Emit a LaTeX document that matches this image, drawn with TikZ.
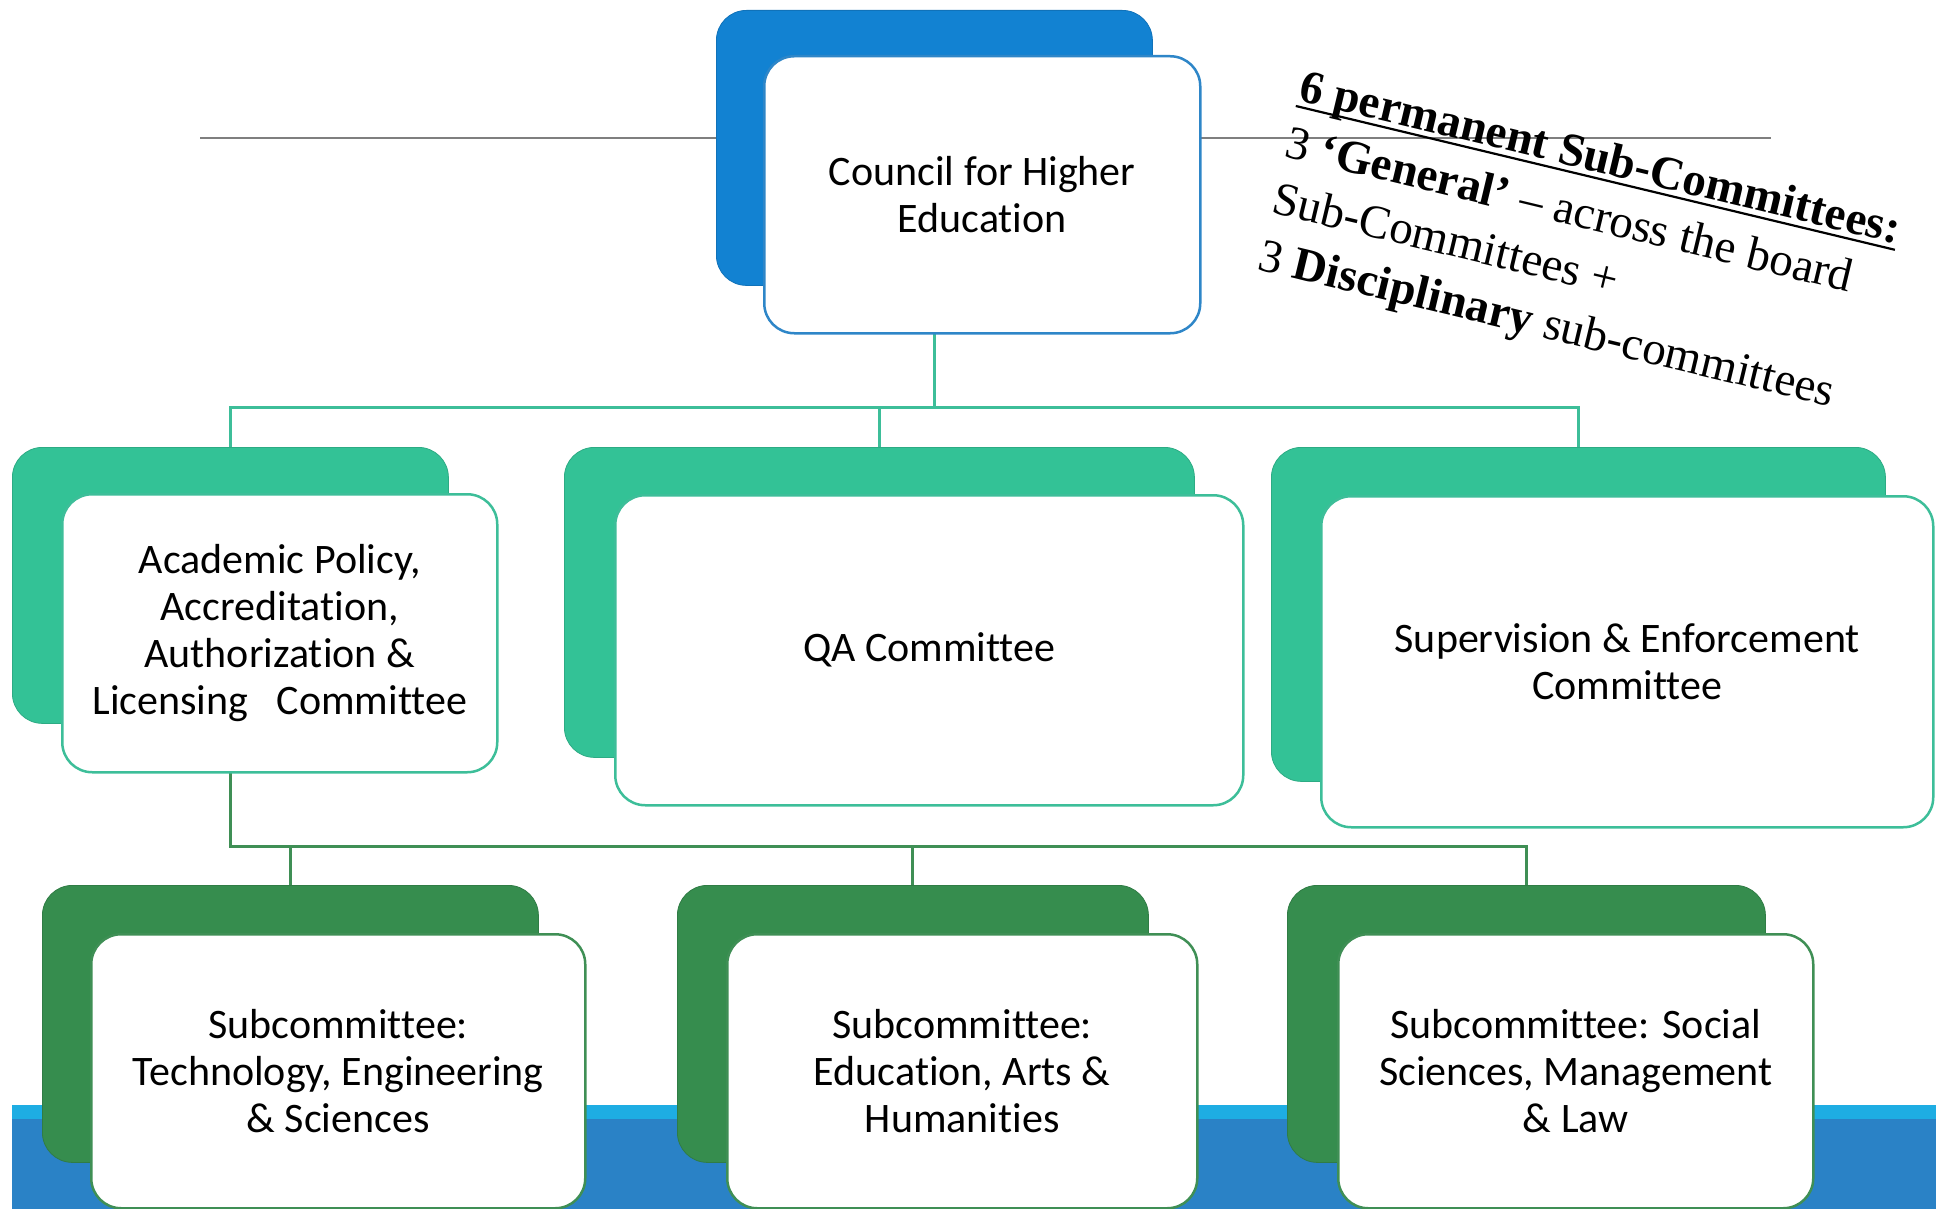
\documentclass[tikz,border=0pt]{standalone}
\usepackage{fontspec}
\setmainfont{Carlito}[Ligatures={NoCommon}]
\newfontfamily\garafont{Liberation Serif}
\definecolor{cblueB}{RGB}{18,130,210}
\definecolor{cblueF}{RGB}{46,134,200}
\definecolor{ctealB}{RGB}{51,194,150}
\definecolor{ctealF}{RGB}{61,190,153}
\definecolor{cgreenB}{RGB}{54,141,78}
\definecolor{cgreenF}{RGB}{63,143,85}
\definecolor{bandL}{RGB}{30,173,227}
\definecolor{bandD}{RGB}{42,130,198}
\definecolor{rulegray}{RGB}{127,127,127}
\newcommand\ulbar[1]{\setbox0\hbox{#1}\vtop{\copy0\kern-\dp0\kern5pt\hrule height 2.2pt}}
\pgfdeclarelayer{bg}
\pgfsetlayers{bg,main}
\begin{document}
\begin{tikzpicture}[x=1pt,y=-1pt,
  backbox/.style={draw=#1!88!black, line width=0.8pt, fill=#1, rounded corners=30pt, inner sep=0pt, anchor=north west},
  frontbox/.style={draw=#1, line width=2.5pt, fill=white, rounded corners=30pt, inner sep=0pt, anchor=north west, align=center, font=\fontsize{42}{47}\selectfont},
  tealline/.style={draw=ctealF, line width=3pt, line join=miter},
  greenline/.style={draw=cgreenF, line width=3pt, line join=miter},
  rottext/.style={rotate=-13.5, anchor=base west, inner sep=0pt, font=\garafont\fontsize{47}{56}\selectfont}]
\path[use as bounding box] (0,0) rectangle (1936,1209);

% back boxes
\node[backbox=cblueB, minimum width=436pt, minimum height=275pt] (topB) at (716,10) {};
\node[backbox=ctealB, minimum width=436pt, minimum height=276pt] (aB) at (12,447) {};
\node[backbox=ctealB, minimum width=630pt, minimum height=310pt] (qB) at (564,447) {};
\node[backbox=ctealB, minimum width=614pt, minimum height=334pt] (sB) at (1271,447) {};
\node[backbox=cgreenB, minimum width=496pt, minimum height=277pt] (t1B) at (42,885) {};
\node[backbox=cgreenB, minimum width=471pt, minimum height=277pt] (t2B) at (677,885) {};
\node[backbox=cgreenB, minimum width=478pt, minimum height=277pt] (t3B) at (1287,885) {};

% front boxes
\node[frontbox=cblueF, minimum width=436pt, minimum height=277pt] (top) at (763,55) {Council for Higher\\Education};
\node[frontbox=ctealF, minimum width=435pt, minimum height=278pt] (a) at (61,493) {Academic Policy,\\Accreditation,\\Authorization \&\\Licensing\hspace{0.45em} Committee};
\node[frontbox=ctealF, minimum width=628pt, minimum height=310pt] (q) at (614,494) {QA Committee};
\node[frontbox=ctealF, minimum width=612pt, minimum height=331pt] (s) at (1320,495) {Supervision \& Enforcement\\Committee};
\node[frontbox=cgreenF, minimum width=494pt, minimum height=274pt] (t1) at (90,933) {Subcommittee:\\Technology, Engineering\\\& Sciences};
\node[frontbox=cgreenF, minimum width=470pt, minimum height=274pt] (t2) at (726,933) {Subcommittee:\\Education, Arts \&\\Humanities};
\node[frontbox=cgreenF, minimum width=475pt, minimum height=274pt] (t3) at (1337,933) {Subcommittee: Social\\Sciences, Management\\\& Law};

\begin{pgfonlayer}{bg}
  \fill[bandD] (12,1119) rectangle (1936,1209);
  \fill[bandL] (12,1105) rectangle (1936,1119);
  \draw[rulegray, line width=1.8pt] (200,138) -- (1771,138);
  \coordinate (bus1) at (0,407);
  \coordinate (bus2) at (0,846);
  \draw[tealline] (topB.south) -- (topB.south |- bus1);
  \draw[tealline] (aB.north) -- (aB.north |- bus1) -- (sB.north |- bus1) -- (sB.north);
  \draw[tealline] (qB.north) -- (qB.north |- bus1);
  \draw[greenline] (aB.south) -- (aB.south |- bus2) -- (t3B.north |- bus2) -- (t3B.north);
  \draw[greenline] (t1B.north) -- (t1B.north |- bus2);
  \draw[greenline] (t2B.north) -- (t2B.north |- bus2);
\end{pgfonlayer}

% rotated note
\node[rottext] (n1) at (1297,100) {\ulbar{\bfseries 6 permanent Sub-Committees:}};
\node[rottext] (n2) at (1283.5,156.4) {3 \textbf{‘General’} – across the board};
\node[rottext] (n3) at (1270,212.8) {Sub-Committees +};
\node[rottext] (n4) at (1256.5,269.2) {3 \textbf{Disciplinary} sub-committees};
\end{tikzpicture}
\end{document}
